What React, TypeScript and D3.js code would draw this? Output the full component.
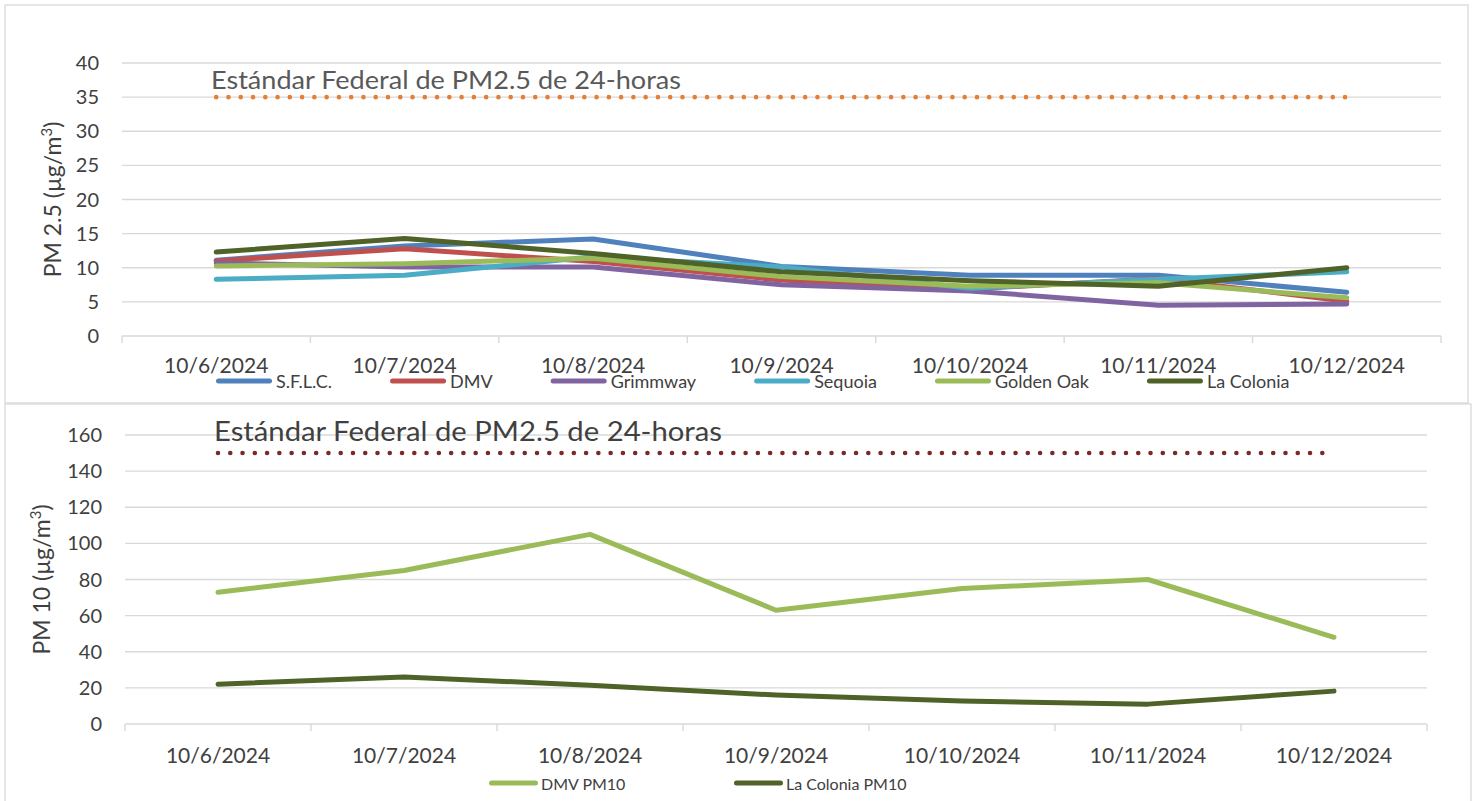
import React from 'react';
import * as d3 from 'd3';

const dates = ['10/6/2024', '10/7/2024', '10/8/2024', '10/9/2024', '10/10/2024', '10/11/2024', '10/12/2024'];

const sflc = [11.1, 13.2, 14.2, 10.2, 8.9, 8.9, 6.4];
const dmv = [11.0, 12.8, 10.9, 8.2, 6.9, 8.4, 5.1];
const grimmway = [10.7, 10.1, 10.1, 7.5, 6.6, 4.5, 4.7];
const sequoia = [8.3, 8.9, 11.6, 10.1, 7.0, 8.3, 9.4];
const goldenOak = [10.25, 10.6, 11.4, 8.7, 7.3, 7.8, 5.6];
const laColonia = [12.3, 14.3, 12.1, 9.4, 8.1, 7.3, 10.0];

const dmvPm10 = [73, 85, 105, 63, 75, 80, 48];
const laColoniaPm10 = [22, 26, 21.5, 16, 12.7, 11, 18.2];

const pm25Standard = 35;
const pm10Standard = 150;
const pm25Ticks = [0, 5, 10, 15, 20, 25, 30, 35, 40];
const pm10Ticks = [0, 20, 40, 60, 80, 100, 120, 140, 160];
const standardLabel = 'Estándar Federal de PM2.5 de 24-horas';

const FONT = 'Lato, "Open Sans", sans-serif';
const GRID = '#D9D9D9';
const TEXT = '#404040';

type Series = { name: string; values: number[]; color: string };

const pm25Series: Series[] = [
  { name: 'S.F.L.C.', values: sflc, color: '#4F81BD' },
  { name: 'DMV', values: dmv, color: '#C0504D' },
  { name: 'Grimmway', values: grimmway, color: '#8064A2' },
  { name: 'Sequoia', values: sequoia, color: '#4BACC6' },
  { name: 'Golden Oak', values: goldenOak, color: '#9BBB59' },
  { name: 'La Colonia', values: laColonia, color: '#4F6228' },
];

const pm10Series: Series[] = [
  { name: 'DMV PM10', values: dmvPm10, color: '#9BBB59' },
  { name: 'La Colonia PM10', values: laColoniaPm10, color: '#4F6228' },
];

let ctx: CanvasRenderingContext2D | null = null;
function measure(text: string, size: number) {
  if (!ctx) ctx = document.createElement('canvas').getContext('2d');
  if (!ctx) return text.length * size * 0.5;
  ctx.font = `${size}px Lato`;
  return ctx.measureText(text).width;
}

type PanelProps = {
  box: { x: number; y: number; w: number; h: number };
  plot: { x0: number; x1: number; y0: number; y1: number };
  domain: [number, number];
  ticks: number[];
  series: Series[];
  standard: number;
  standardColor: string;
  labelSize: number;
  labelLength: number;
  labelColor: string;
  labelPos: { x: number; y: number };
  yTitle: string;
  yTitleX: number;
  xLabelY: number;
  legend: { x: number; y: number; swatch: number; gap: number; after: number; size: number };
};

function Panel(p: PanelProps) {
  const x = d3.scaleBand<string>().domain(dates).range([p.plot.x0, p.plot.x1]).padding(0);
  const y = d3.scaleLinear().domain(p.domain).range([p.plot.y1, p.plot.y0]);
  const cx = (d: string) => (x(d) as number) + x.bandwidth() / 2;
  const line = d3
    .line<number>()
    .x((_, i) => cx(dates[i]))
    .y((v) => y(v));
  const edges = dates.map((d) => x(d) as number).concat([p.plot.x1]);
  const sy = y(p.standard);
  const yMid = (p.plot.y0 + p.plot.y1) / 2;

  let lx = p.legend.x;
  const legendItems = p.series.map((s) => {
    const w = measure(s.name, p.legend.size);
    const item = { s, x: lx };
    lx += p.legend.swatch + p.legend.gap + w + p.legend.after;
    return item;
  });

  return (
    <g>
      <rect x={p.box.x} y={p.box.y} width={p.box.w} height={p.box.h} fill="#fff" stroke={GRID} strokeWidth={1.3} />
      {p.ticks.map((t) => (
        <line key={t} x1={p.plot.x0} x2={p.plot.x1} y1={y(t)} y2={y(t)} stroke={GRID} strokeWidth={1.4} />
      ))}
      {edges.map((e, i) => (
        <line key={i} x1={e} x2={e} y1={p.plot.y1} y2={p.plot.y1 + 7} stroke={GRID} strokeWidth={1.4} />
      ))}
      {p.ticks.map((t) => (
        <text key={t} x={p.plot.x0 - 23} y={y(t)} dy="0.35em" textAnchor="end" fontSize={20} fill={TEXT} fontFamily={FONT}>
          {t}
        </text>
      ))}
      {dates.map((d) => (
        <text key={d} x={cx(d)} y={p.xLabelY} textAnchor="middle" fontSize={21} fill={TEXT} fontFamily={FONT}>
          {d}
        </text>
      ))}
      <text
        transform={`translate(${p.yTitleX},${yMid}) rotate(-90)`}
        textAnchor="middle"
        fontSize={23}
        fill={TEXT}
        fontFamily={FONT}
      >
        {p.yTitle}
        <tspan dy={-9} fontSize={15}>3</tspan>
        <tspan dy={9}>)</tspan>
      </text>
      <line
        x1={cx(dates[0])}
        x2={cx(dates[dates.length - 1])}
        y1={sy}
        y2={sy}
        stroke={p.standardColor}
        strokeWidth={4.6}
        strokeLinecap="round"
        strokeDasharray="0 12.27"
      />
      <text
        x={p.labelPos.x}
        y={p.labelPos.y}
        fontSize={p.labelSize}
        fill={p.labelColor}
        fontFamily={FONT}
        textLength={p.labelLength}
        lengthAdjust="spacingAndGlyphs"
      >
        {standardLabel}
      </text>
      {p.series.map((s) => (
        <path
          key={s.name}
          d={line(s.values) || ''}
          fill="none"
          stroke={s.color}
          strokeWidth={5}
          strokeLinecap="round"
          strokeLinejoin="round"
        />
      ))}
      {legendItems.map(({ s, x: ix }) => (
        <g key={s.name}>
          <line
            x1={ix + 2.5}
            x2={ix + p.legend.swatch - 2.5}
            y1={p.legend.y}
            y2={p.legend.y}
            stroke={s.color}
            strokeWidth={5}
            strokeLinecap="round"
          />
          <text
            x={ix + p.legend.swatch + p.legend.gap}
            y={p.legend.y + 7}
            fontSize={p.legend.size}
            fill={TEXT}
            fontFamily={FONT}
          >
            {s.name}
          </text>
        </g>
      ))}
    </g>
  );
}

export default function App() {
  return (
    <svg
      width={1475}
      height={801}
      style={{ position: 'absolute', left: 0, top: 0, display: 'block', background: '#fff' }}
    >
      <Panel
        box={{ x: 5, y: 5, w: 1463, h: 398 }}
        plot={{ x0: 122, x1: 1441, y0: 63, y1: 336 }}
        domain={[0, 40]}
        ticks={pm25Ticks}
        series={pm25Series}
        standard={pm25Standard}
        standardColor="#E67E33"
        labelSize={25}
        labelLength={470}
        labelColor="#595959"
        labelPos={{ x: 211, y: 89 }}
        yTitle="PM 2.5 (µg/m"
        yTitleX={61}
        xLabelY={373}
        legend={{ x: 216, y: 381, swatch: 56, gap: 4, after: 58, size: 18 }}
      />
      <Panel
        box={{ x: 5, y: 404, w: 1466, h: 402 }}
        plot={{ x0: 125, x1: 1427, y0: 435, y1: 724 }}
        domain={[0, 160]}
        ticks={pm10Ticks}
        series={pm10Series}
        standard={pm10Standard}
        standardColor="#7A2A2A"
        labelSize={27}
        labelLength={508}
        labelColor={TEXT}
        labelPos={{ x: 214, y: 441 }}
        yTitle="PM 10 (µg/m"
        yTitleX={50}
        xLabelY={763}
        legend={{ x: 489, y: 783, swatch: 49, gap: 3, after: 108, size: 16 }}
      />
    </svg>
  );
}
